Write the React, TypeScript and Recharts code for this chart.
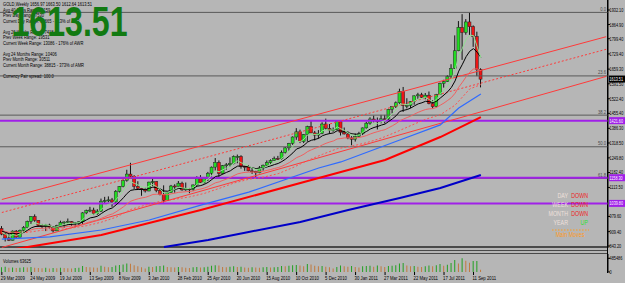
import React from 'react';
import { ComposedChart, BarChart, Bar, Line, XAxis, YAxis, ReferenceLine, Cell } from 'recharts';

// ---------- data ----------
const dateLabels = ['29 Mar 2009','24 May 2009','19 Jul 2009','13 Sep 2009','8 Nov 2009','3 Jan 2010','28 Feb 2010','25 Apr 2010','20 Jun 2010','15 Aug 2010','10 Oct 2010','5 Dec 2010','30 Jan 2011','27 Mar 2011','22 May 2011','17 Jul 2011','11 Sep 2011'];
const dateTickIdx = [0,8,16,24,32,40,48,56,64,72,80,88,96,104,112,120,128];

const opens = [924,898,880,869,912,884,915,929,957,979,962,937,933,940,930,913,937,951,954,956,949,952,955,996,1006,1009,992,1004,1050,1052,1056,1046,1095,1118,1146,1175,1165,1118,1109,1104,1097,1138,1140,1099,1081,1054,1090,1120,1119,1133,1102,1107,1104,1125,1160,1136,1155,1179,1207,1229,1178,1214,1218,1225,1256,1256,1211,1210,1190,1188,1181,1204,1216,1228,1237,1247,1246,1275,1296,1317,1346,1370,1325,1358,1394,1365,1355,1363,1406,1386,1378,1380,1420,1368,1360,1342,1336,1349,1361,1388,1410,1429,1421,1418,1430,1429,1474,1486,1504,1556,1491,1492,1510,1536,1541,1529,1539,1500,1486,1542,1593,1602,1625,1663,1744,1852,1828,1877,1855,1810,1657];
const highs = [935,905,897,915,917,919,935,960,981,989,962,945,945,946,933,941,960,957,970,958,953,957,999,1011,1024,1020,1013,1062,1070,1072,1065,1101,1120,1150,1195,1227,1170,1142,1111,1112,1140,1161,1142,1107,1123,1092,1125,1128,1143,1140,1136,1111,1127,1165,1170,1159,1185,1210,1249,1238,1217,1226,1252,1261,1265,1262,1212,1217,1204,1190,1212,1219,1238,1243,1256,1259,1284,1300,1319,1349,1387,1380,1360,1398,1424,1374,1378,1414,1431,1406,1390,1422,1424,1390,1373,1350,1362,1370,1390,1416,1437,1445,1436,1448,1448,1476,1488,1510,1569,1577,1525,1512,1538,1550,1550,1549,1556,1516,1545,1597,1610,1632,1682,1815,1881,1913,1890,1921,1861,1832,1663];
const lows = [893,864,866,869,882,883,908,925,945,955,932,924,912,924,905,912,935,928,950,936,930,939,944,990,999,986,987,1000,1041,1045,1024,1040,1090,1114,1140,1160,1106,1104,1075,1090,1096,1120,1091,1077,1044,1052,1089,1089,1115,1098,1098,1087,1098,1120,1134,1131,1143,1164,1191,1160,1177,1195,1208,1220,1225,1200,1190,1188,1176,1157,1179,1191,1213,1221,1236,1240,1242,1270,1283,1310,1333,1318,1318,1325,1364,1330,1340,1359,1380,1361,1370,1378,1353,1358,1336,1308,1325,1344,1355,1385,1403,1414,1381,1409,1409,1423,1455,1480,1495,1462,1478,1480,1495,1520,1526,1520,1497,1478,1483,1540,1574,1600,1615,1660,1742,1702,1818,1817,1762,1627,1575];
const closes = [898,880,869,912,884,915,929,957,979,962,937,933,940,930,913,937,951,954,956,949,952,955,996,1006,1009,992,1004,1050,1052,1056,1046,1095,1118,1146,1175,1165,1118,1109,1104,1097,1138,1140,1099,1081,1054,1090,1120,1119,1133,1102,1107,1104,1125,1160,1136,1155,1179,1207,1229,1178,1214,1218,1225,1256,1256,1210,1210,1190,1188,1181,1204,1216,1228,1237,1246,1246,1275,1296,1317,1346,1370,1325,1358,1394,1365,1355,1363,1406,1386,1378,1380,1420,1368,1360,1342,1336,1349,1361,1388,1410,1429,1421,1418,1430,1429,1474,1486,1504,1556,1491,1492,1510,1536,1541,1529,1539,1500,1486,1542,1593,1602,1625,1663,1744,1852,1828,1877,1855,1810,1657,1613];

const fastMA = [906,897,888,896,892,900,909,925,943,950,945,941,941,937,929,932,938,943,948,948,949,951,966,980,989,990,995,1013,1026,1036,1039,1058,1078,1101,1125,1139,1132,1124,1117,1111,1120,1127,1117,1105,1088,1089,1099,1106,1115,1111,1109,1108,1113,1129,1131,1139,1153,1171,1190,1186,1195,1203,1210,1226,1236,1227,1221,1211,1203,1196,1199,1204,1212,1221,1229,1235,1248,1264,1282,1303,1325,1325,1336,1356,1359,1358,1359,1375,1379,1378,1379,1393,1384,1376,1365,1355,1353,1356,1367,1381,1397,1405,1409,1416,1421,1438,1454,1471,1499,1497,1495,1500,1512,1522,1524,1529,1519,1508,1520,1544,1563,1584,1610,1655,1721,1756,1797,1816,1814,1762,1712];
const midMA = [912,906,900,902,899,902,906,916,927,933,934,934,935,934,930,931,935,938,942,943,945,946,955,964,973,976,981,993,1004,1013,1019,1033,1048,1066,1086,1100,1103,1104,1104,1103,1109,1115,1112,1106,1097,1096,1100,1104,1109,1108,1108,1107,1110,1119,1122,1128,1137,1150,1164,1167,1175,1183,1190,1202,1212,1212,1211,1207,1204,1200,1201,1203,1208,1213,1219,1224,1233,1244,1258,1273,1291,1297,1308,1323,1331,1335,1340,1352,1358,1362,1365,1375,1374,1371,1366,1361,1359,1359,1364,1372,1383,1390,1395,1401,1406,1418,1430,1444,1464,1469,1473,1480,1490,1499,1504,1511,1509,1505,1511,1526,1540,1555,1575,1605,1650,1682,1717,1742,1754,1737,1714];
const slowMA = [914,910,906,907,905,906,908,912,918,923,924,925,926,927,926,927,929,931,934,935,937,939,944,950,955,959,963,971,978,986,991,1001,1012,1024,1038,1050,1056,1061,1065,1068,1074,1081,1082,1082,1080,1080,1084,1087,1091,1092,1094,1095,1097,1103,1106,1111,1117,1126,1135,1139,1146,1152,1159,1168,1176,1180,1183,1184,1184,1184,1186,1188,1192,1196,1201,1205,1211,1219,1228,1239,1251,1258,1267,1279,1287,1294,1300,1310,1317,1323,1328,1337,1339,1342,1342,1341,1342,1344,1348,1353,1360,1366,1371,1376,1380,1389,1398,1408,1421,1429,1436,1443,1452,1460,1467,1473,1476,1477,1483,1493,1503,1515,1528,1548,1576,1599,1624,1645,1660,1660,1652];

const dottedIdx = [0,3,7,11,15,19,23,27,31,35,39,43,47,51,55,59,63,67,71,75,79,83,87,91,95,99,103,107,111,115,119,123,127,130];
const dottedVals = [904,902,906,916,919,926,937,953,976,1012,1032,1049,1059,1070,1086,1109,1134,1151,1161,1177,1205,1238,1266,1292,1304,1320,1341,1369,1399,1428,1449,1493,1568,1588];
const blueIdx = [0,13,27,40,54,67,86,92,108,119,124,130];
const blueVals = [875,885,917,963,1032,1092,1203,1231,1332,1402,1480,1545];
const redIdx = [0,7,27,54,86,104,119,130];
const redVals = [820,839,894,1009,1157,1240,1346,1438];
const navyIdx = [44,56,67,81,94,108,119,130];
const navyVals = [839,871,908,954,1009,1065,1111,1171];

const trendUpper = [1057.7, 1808.9];
const trendDotted = [997.7, 1750.8];
const trendLower = [836.3, 1625.7];

const volumes = [170000,190000,150000,160000,140000,150000,170000,160000,180000,150000,140000,130000,150000,120000,140000,130000,150000,140000,130000,120000,140000,150000,210000,180000,170000,160000,150000,220000,190000,170000,180000,230000,250000,270000,300000,290000,240000,200000,170000,120000,190000,180000,200000,210000,230000,180000,170000,160000,180000,170000,150000,140000,170000,180000,160000,170000,190000,220000,240000,230000,180000,170000,190000,200000,180000,190000,160000,150000,170000,160000,150000,170000,180000,160000,170000,180000,210000,200000,220000,240000,250000,230000,200000,280000,270000,220000,200000,210000,190000,170000,120000,180000,230000,200000,190000,210000,180000,160000,200000,210000,220000,190000,230000,200000,180000,210000,220000,240000,300000,320000,230000,200000,210000,190000,180000,200000,230000,200000,240000,280000,220000,260000,320000,425000,300000,485486,400000,330000,390000,390000,80000];

const priceTicks = [1932.10,1864.90,1799.40,1729.40,1659.30,1591.50,1522.40,1455.40,1386.30,1318.50,1249.80,1182.40,1113.50,979.60,909.40,843.20];
const volumeTicks = [0, 485486];
const fibPrices = [1921, 1628, 1447, 1301, 1155];
const fibLabels = ['0.0','23.6','38.2','50.0','61.8'];
const supportLevels = [1421.6, 1158.3, 1039.8];
const lastPrice = 1613.51;

const infoLines = [
  'GOLD,Weekly  1656.97 1663.50 1612.64 1613.51',
  'Avg 40 Days Range: 4159',
  'Prev Day Range: 7530',
  'Current Day Range: 10665 - 213% of ADR',
  '',
  'Avg 26 Weeks Range: 7418',
  'Prev Week Range: 19531',
  'Current Week Range: 13086 - 176% of AWR',
  '',
  'Avg 24 Months Range: 10406',
  'Prev Month Range: 30511',
  'Current Month Range: 38815 - 373% of AMR',
  '',
  'Currency Pair spread: 100.0',
];
const trendNames = ['DAY','WEEK','MONTH','YEAR'];
const trendStates = ['DOWN','DOWN','DOWN','UP'];
const volumeTitle = 'Volumes 63625';
const bigPrice = '1613.51';
const mainMoves = 'Main Moves';

// ---------- table building ----------
const SLOTS = 165;
const rows: any[] = Array.from({ length: SLOTS }, (_, i) => {
  const r: any = { i };
  if (i < closes.length) {
    r.o = opens[i]; r.h = highs[i]; r.l = lows[i]; r.c = closes[i];
    r.range = [lows[i], highs[i]];
    r.fast = fastMA[i]; r.mid = midMA[i]; r.slow = slowMA[i];
  }
  return r;
});
const putSparse = (key: string, idx: number[], vals: number[]) => idx.forEach((k, j) => { rows[k][key] = vals[j]; });
putSparse('dot', dottedIdx, dottedVals);
putSparse('blue', blueIdx, blueVals);
putSparse('red', redIdx, redVals);
putSparse('navy', navyIdx, navyVals);
putSparse('tu', [0, SLOTS - 1], trendUpper);
putSparse('td', [0, SLOTS - 1], trendDotted);
putSparse('tl', [0, SLOTS - 1], trendLower);

const vrows = Array.from({ length: SLOTS }, (_, i) => ({
  i,
  v: i < volumes.length ? volumes[i] : null,
  up: i < volumes.length ? (i === 0 || volumes[i] >= volumes[i - 1]) : true,
}));

// ---------- drawing helpers ----------
const FONT = 'Liberation Sans, Arial, sans-serif';
const AXIS_TEXT_X = 609;
const SText = ({ x, y, children, size = 5.5, sx = 0.75, fill = '#000', anchor = 'start', weight = 'normal' }: any) => (
  <text transform={`translate(${x},${y}) scale(${sx},1)`} fontSize={size} fill={fill} textAnchor={anchor}
    fontFamily={FONT} fontWeight={weight}>{children}</text>
);

const Candle = (props: any) => {
  const { x, y, width, height, payload } = props;
  if (!payload || payload.o == null) return null;
  const { o, h, l, c } = payload;
  const top = Math.min(y, y + height);
  const hh = Math.abs(height);
  const k = hh / (h - l || 1);
  const cx = x + width / 2;
  const yO = top + (h - o) * k;
  const yC = top + (h - c) * k;
  const up = c >= o;
  const bt = Math.min(yO, yC);
  const bh = Math.max(1, Math.abs(yO - yC));
  return (
    <g>
      <line x1={cx} x2={cx} y1={top} y2={top + hh} stroke="#111" strokeWidth={1} />
      <rect x={cx - 1.5} y={bt} width={3} height={bh} fill={up ? '#22dd22' : '#ee1414'} stroke="#222" strokeWidth={0.5} />
    </g>
  );
};

const PriceTick = (props: any) => {
  const { y, payload } = props;
  return <SText x={AXIS_TEXT_X + 0.5} y={y + 2} size={5.5} sx={0.7}>{Number(payload.value).toFixed(2)}</SText>;
};
const VolTick = (props: any) => {
  const { y, payload } = props;
  return <SText x={AXIS_TEXT_X + 0.5} y={y + 2} size={5.5} sx={0.7}>{String(payload.value)}</SText>;
};
const DateTick = (props: any) => {
  const { x, payload } = props;
  const k = dateTickIdx.indexOf(payload.value);
  return <SText x={x - 1} y={30} size={5.5} sx={0.78}>{k >= 0 ? dateLabels[k] : ''}</SText>;
};
const PriceBox = (props: any) => {
  const { viewBox, text, bg } = props;
  if (!viewBox) return null;
  const bx = viewBox.x + viewBox.width + 1;
  const by = viewBox.y;
  return (
    <g>
      <rect x={bx} y={by - 3.5} width={16} height={7} fill={bg} />
      <SText x={bx + 0.5} y={by + 2} size={5.5} sx={0.68} fill="#fff">{text}</SText>
    </g>
  );
};
const FibLabel = (props: any) => {
  const { viewBox, text } = props;
  if (!viewBox) return null;
  return <SText x={viewBox.x + viewBox.width - 2} y={viewBox.y - 1.5} size={5.5} sx={0.75} fill="#4a4a4a" anchor="end">{text}</SText>;
};

export default function App() {
  return (
    <div style={{ position: 'fixed', left: 0, top: 0, width: 625, height: 283, background: '#b6b6b6', overflow: 'hidden' }}>
      {/* panel separators */}
      <div style={{ position: 'absolute', left: 0, top: 246, width: 607, height: 2, background: '#4a4a4a' }} />
      <div style={{ position: 'absolute', left: 0, top: 250, width: 607, height: 1, background: '#4a4a4a' }} />
      <div style={{ position: 'absolute', left: 0, top: 253, width: 607, height: 1, background: '#4a4a4a' }} />
      <div style={{ position: 'absolute', left: 607, top: 0, width: 1, height: 273, background: '#000' }} />

      <div style={{ position: 'absolute', left: 0, top: 0 }}>
        <ComposedChart width={625} height={248} data={rows} margin={{ top: 0, right: 0, bottom: 0, left: 0 }} barCategoryGap={0}>
          <XAxis dataKey="i" type="category" hide />
          <YAxis orientation="right" width={17} domain={[833.97, 1978.24]} allowDataOverflow ticks={priceTicks}
            interval={0} tick={<PriceTick />} tickSize={2} tickLine={{ stroke: '#000' }} axisLine={{ stroke: '#000' }} />
          {fibPrices.map((p, k) => (
            <ReferenceLine key={'f' + k} y={p} stroke="#5a5a5a" strokeWidth={1} label={<FibLabel text={fibLabels[k]} />} />
          ))}
          {supportLevels.map((p, k) => (
            <ReferenceLine key={'s' + k} y={p} stroke="#a020e8" strokeWidth={2}
              label={<PriceBox text={p.toFixed(2)} bg="#a020e8" />} />
          ))}
          <Line dataKey="tu" stroke="#ff3a3a" strokeWidth={1} dot={false} activeDot={false} connectNulls isAnimationActive={false} />
          <Line dataKey="td" stroke="#ff3a3a" strokeWidth={1} strokeDasharray="2 2" dot={false} activeDot={false} connectNulls isAnimationActive={false} />
          <Line dataKey="tl" stroke="#ff3a3a" strokeWidth={1} dot={false} activeDot={false} connectNulls isAnimationActive={false} />
          <Bar dataKey="range" barSize={3} shape={<Candle />} isAnimationActive={false} />
          <Line dataKey="navy" stroke="#0000c8" strokeWidth={2} dot={false} activeDot={false} connectNulls isAnimationActive={false} />
          <Line dataKey="red" stroke="#ff0000" strokeWidth={2} dot={false} activeDot={false} connectNulls isAnimationActive={false} />
          <Line dataKey="blue" stroke="#2f6bff" strokeWidth={1.2} dot={false} activeDot={false} connectNulls isAnimationActive={false} />
          <Line dataKey="dot" stroke="#ff5050" strokeWidth={1} strokeDasharray="2 2" dot={false} activeDot={false} connectNulls isAnimationActive={false} />
          <Line dataKey="slow" stroke="#f06060" strokeWidth={1} dot={false} activeDot={false} isAnimationActive={false} />
          <Line dataKey="mid" stroke="#000000" strokeWidth={1} dot={false} activeDot={false} isAnimationActive={false} />
          <Line dataKey="fast" stroke="#8fe08f" strokeWidth={1} dot={false} activeDot={false} isAnimationActive={false} />
          <ReferenceLine y={lastPrice} stroke="none" label={<PriceBox text={lastPrice.toFixed(2)} bg="#000" />} />
        </ComposedChart>
      </div>

      <div style={{ position: 'absolute', left: 0, top: 250 }}>
        <BarChart width={625} height={33} data={vrows} margin={{ top: 4, right: 0, bottom: 0, left: 0 }} barCategoryGap={0}>
          <XAxis dataKey="i" type="category" ticks={dateTickIdx} interval={0} tick={<DateTick />} tickSize={3}
            tickLine={{ stroke: '#000' }} axisLine={false} height={11} />
          <YAxis orientation="right" width={17} domain={[0, 638000]} ticks={volumeTicks} interval={0}
            tick={<VolTick />} tickSize={2} tickLine={{ stroke: '#000' }} axisLine={{ stroke: '#000' }} />
          <Bar dataKey="v" barSize={1} isAnimationActive={false}>
            {vrows.map((r, k) => <Cell key={k} fill={r.up ? '#22a022' : '#c07a3e'} />)}
          </Bar>
        </BarChart>
      </div>

      <svg width={625} height={283} style={{ position: 'absolute', left: 0, top: 0, pointerEvents: 'none' }}>
        {infoLines.map((t, k) => (
          <SText key={k} x={3} y={6 + 5.5 * k} size={5.5} sx={0.74}>{t}</SText>
        ))}
        <SText x={11.5} y={35.5} size={42} sx={0.765} fill="#127a12" weight="bold">{bigPrice}</SText>
        {trendNames.map((t, k) => (
          <g key={k}>
            <SText x={568} y={197.5 + 9 * k} size={7} sx={0.76} fill="#efe0dc" anchor="end">{t}</SText>
            <SText x={588} y={197.5 + 9 * k} size={7} sx={0.76} fill={trendStates[k] === 'UP' ? '#2ee02e' : '#ee2222'} anchor="end">{trendStates[k]}</SText>
          </g>
        ))}
        <line x1={552} x2={589} y1={230} y2={230} stroke="#ff9a1a" strokeWidth={1} strokeDasharray="1.5 1.5" />
        <SText x={570} y={236.5} size={7} sx={0.76} fill="#ff9a1a" anchor="middle">{mainMoves}</SText>
        <SText x={3} y={263} size={5.5} sx={0.74}>{volumeTitle}</SText>
      </svg>
    </div>
  );
}
